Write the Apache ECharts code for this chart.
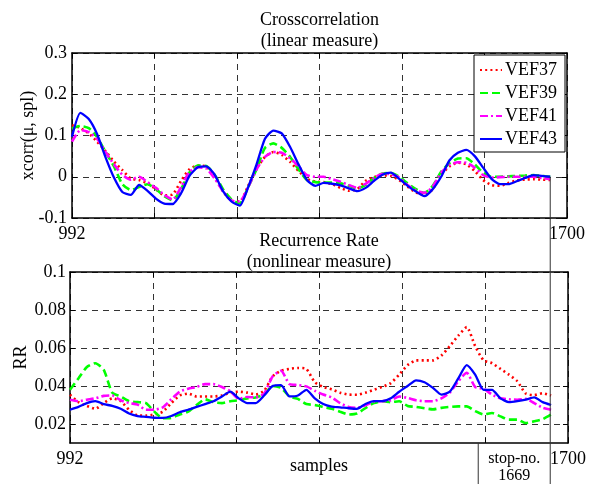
<!DOCTYPE html>
<html><head><meta charset="utf-8">
<script src="https://cdn.jsdelivr.net/npm/echarts@6/dist/echarts.min.js"></script>
<style>html,body{margin:0;padding:0;background:#fff}#c{width:598px;height:484px}</style>
</head><body><div id="c"></div><script>
const SAMPLE_START = 992, SAMPLE_STEP = 12;
const X_MIN = 992, X_MAX = 1700;
const X_TICKS = [992, 1110, 1228, 1346, 1464, 1582, 1700];
const X_LABELS = [992, 1700];
const XCORR_TICKS = [-0.1, 0, 0.1, 0.2, 0.3];
const RR_TICKS = [0.02, 0.04, 0.06, 0.08, 0.1];
const STOP_TEXT = ['stop-no.', '1669'];
const SERIES_NAMES = ['VEF37', 'VEF39', 'VEF41', 'VEF43'];

const XCORR_VEF37 = [0.125,0.118,0.105,0.085,0.062,0.037,0.016,-0.004,-0.008,-0.016,-0.03,-0.045,-0.043,-0.01,0.018,0.027,0.025,0.0,-0.035,-0.058,-0.06,-0.022,0.02,0.048,0.06,0.053,0.036,0.014,-0.005,-0.012,-0.013,-0.018,-0.027,-0.034,-0.03,-0.01,-0.001,0.003,0.002,-0.008,-0.024,-0.038,-0.044,-0.03,0.005,0.025,0.034,0.03,0.014,-0.008,-0.02,-0.022,-0.015,-0.009,-0.007,-0.006,-0.007,-0.008];
const XCORR_VEF39 = [0.117,0.123,0.118,0.096,0.06,0.025,-0.018,-0.032,-0.025,-0.018,-0.03,-0.047,-0.057,-0.03,0.01,0.027,0.026,0.005,-0.03,-0.055,-0.065,-0.025,0.018,0.07,0.081,0.07,0.048,0.018,-0.008,-0.013,-0.014,-0.014,-0.016,-0.022,-0.028,-0.02,-0.003,0.008,0.009,0.0,-0.016,-0.03,-0.039,-0.022,0.012,0.033,0.044,0.045,0.03,0.01,0.0,0.0,0.001,0.002,0.003,0.004,0.002,0.0];
const XCORR_VEF41 = [0.085,0.113,0.108,0.092,0.06,0.03,0.005,-0.007,0.0,-0.013,-0.027,-0.044,-0.055,-0.025,0.012,0.023,0.02,-0.004,-0.035,-0.058,-0.06,-0.025,0.018,0.048,0.06,0.058,0.045,0.025,0.004,0.0,0.0,-0.006,-0.012,-0.02,-0.027,-0.017,-0.003,0.007,0.006,-0.002,-0.02,-0.033,-0.039,-0.024,0.01,0.028,0.035,0.034,0.022,0.004,-0.002,-0.001,0.0,0.0,0.0,0.0,-0.003,-0.006];
const XCORR_VEF43 = [0.097,0.155,0.14,0.103,0.047,-0.002,-0.037,-0.044,-0.02,-0.034,-0.053,-0.065,-0.066,-0.04,0.002,0.023,0.025,0.005,-0.035,-0.06,-0.07,-0.025,0.03,0.092,0.112,0.105,0.072,0.03,-0.008,-0.022,-0.015,-0.017,-0.021,-0.028,-0.035,-0.027,-0.01,0.005,0.01,-0.005,-0.022,-0.036,-0.047,-0.03,0.0,0.04,0.058,0.065,0.05,0.022,-0.005,-0.018,-0.018,-0.011,-0.003,0.004,0.002,0.0];

const RR_VEF37 = [0.0354,0.0315,0.0295,0.028,0.031,0.0335,0.032,0.0275,0.0245,0.0244,0.025,0.0265,0.031,0.035,0.036,0.0345,0.0345,0.0345,0.035,0.0365,0.037,0.0365,0.0355,0.0375,0.045,0.048,0.049,0.0495,0.049,0.042,0.0395,0.0382,0.0365,0.0355,0.0354,0.0365,0.038,0.0395,0.0415,0.046,0.051,0.0535,0.0535,0.0535,0.056,0.061,0.0665,0.071,0.061,0.0535,0.052,0.049,0.046,0.0425,0.036,0.0352,0.0362,0.035];
const RR_VEF39 = [0.038,0.044,0.05,0.052,0.0485,0.0365,0.0345,0.032,0.0315,0.031,0.0265,0.023,0.0232,0.025,0.0265,0.03,0.033,0.0315,0.031,0.032,0.0325,0.0335,0.034,0.0355,0.04,0.039,0.0345,0.0332,0.0305,0.03,0.029,0.028,0.0265,0.025,0.0255,0.0284,0.031,0.032,0.0315,0.032,0.0295,0.029,0.0283,0.0277,0.0285,0.029,0.0293,0.0293,0.0268,0.025,0.0258,0.024,0.0223,0.0223,0.0205,0.0214,0.0225,0.025];
const RR_VEF41 = [0.0328,0.032,0.0328,0.0335,0.0348,0.035,0.0325,0.031,0.0302,0.0275,0.0275,0.0288,0.033,0.037,0.0386,0.0395,0.041,0.041,0.0395,0.0372,0.0332,0.0342,0.034,0.036,0.045,0.048,0.041,0.0405,0.0398,0.0375,0.0355,0.034,0.031,0.029,0.0285,0.0298,0.0318,0.032,0.0325,0.0345,0.0337,0.0325,0.032,0.032,0.0335,0.0365,0.0425,0.047,0.0395,0.0385,0.0355,0.0335,0.033,0.0328,0.0332,0.031,0.0285,0.0275];
const RR_VEF43 = [0.0275,0.029,0.031,0.032,0.0305,0.0295,0.028,0.0255,0.0242,0.0238,0.0233,0.0232,0.0242,0.0262,0.0275,0.029,0.0305,0.032,0.0345,0.037,0.0335,0.031,0.031,0.035,0.04,0.0405,0.0345,0.035,0.038,0.0335,0.0305,0.0292,0.0288,0.0283,0.028,0.0305,0.032,0.032,0.0335,0.037,0.04,0.043,0.042,0.039,0.0355,0.037,0.044,0.051,0.046,0.038,0.038,0.0335,0.0315,0.032,0.0328,0.034,0.0315,0.03];

const XCORR = [XCORR_VEF37, XCORR_VEF39, XCORR_VEF41, XCORR_VEF43];
const RR = [RR_VEF37, RR_VEF39, RR_VEF41, RR_VEF43];

const FONT = '"Liberation Serif", "Times New Roman", serif';
const COLORS = ['#ff0000', '#00ff00', '#ff00ff', '#0000ff'];
const DASHES = [[2, 3.2], [8, 4], [8, 3, 2, 3], 'solid'];
const WIDTHS = [2.6, 2.6, 2.6, 2.3];

const pairs = arr => arr.map((v, i) => [SAMPLE_START + i * SAMPLE_STEP, v]);
const lastSample = SAMPLE_START + (XCORR_VEF43.length - 1) * SAMPLE_STEP;

const gridLine = {show: true, lineStyle: {color: '#333', width: 1, type: [6, 5]}};
const axisLineStyle = {show: true, onZero: false, lineStyle: {color: '#000', width: 1.5}};
const labelStyle = {color: '#000', fontFamily: FONT, fontSize: 18};

function xAxes(gi) {
  return [{
    type: 'value', gridIndex: gi, min: X_MIN, max: X_MAX, position: 'bottom',
    axisLine: axisLineStyle,
    axisTick: {show: true, inside: true, length: 5, customValues: X_TICKS, lineStyle: {color: '#000'}},
    axisLabel: Object.assign({show: true, margin: 7, customValues: X_LABELS, formatter: v => String(v)}, labelStyle),
    splitLine: gridLine,
    name: gi === 1 ? 'samples' : '', nameLocation: 'middle', nameGap: 14, nameMoveOverlap: false,
    nameTextStyle: {color: '#000', fontFamily: FONT, fontSize: 18, verticalAlign: 'top'}
  }, {
    type: 'value', gridIndex: gi, min: X_MIN, max: X_MAX, position: 'top',
    axisLine: axisLineStyle,
    axisTick: {show: true, inside: true, length: 5, customValues: X_TICKS, lineStyle: {color: '#000'}},
    axisLabel: {show: false}, splitLine: {show: false}
  }];
}
function yAxes(gi, min, max, ticks, name, gap, margin) {
  return [{
    type: 'value', gridIndex: gi, min: min, max: max, position: 'left',
    axisLine: axisLineStyle,
    axisTick: {show: true, inside: true, length: 5, customValues: ticks, lineStyle: {color: '#000'}},
    axisLabel: Object.assign({show: true, margin: margin, customValues: ticks}, labelStyle),
    splitLine: gridLine,
    name: name, nameLocation: 'middle', nameGap: gap, nameRotate: 90, nameMoveOverlap: false,
    nameTextStyle: {color: '#000', fontFamily: FONT, fontSize: 18}
  }, {
    type: 'value', gridIndex: gi, min: min, max: max, position: 'right',
    axisLine: axisLineStyle,
    axisTick: {show: true, inside: true, length: 5, customValues: ticks, lineStyle: {color: '#000'}},
    axisLabel: {show: false}, splitLine: {show: false}
  }];
}

const series = [];
[XCORR, RR].forEach((group, gi) => {
  group.forEach((arr, si) => {
    series.push({
      type: 'line', name: SERIES_NAMES[si], xAxisIndex: gi * 2, yAxisIndex: gi * 2,
      data: pairs(arr), symbol: 'none', smooth: 0.2, animation: false,
      lineStyle: {color: COLORS[si], width: WIDTHS[si], type: DASHES[si], cap: 'butt'},
      itemStyle: {color: COLORS[si]}, z: 2 + si
    });
  });
});

const chart = echarts.init(document.getElementById('c'), null, {renderer: 'canvas'});
chart.setOption({
  animation: false,
  backgroundColor: '#fff',
  title: [
    {text: 'Crosscorrelation\n(linear measure)', left: 319.5, top: 10, textAlign: 'center', padding: 0,
     textStyle: {color: '#000', fontFamily: FONT, fontSize: 18, fontWeight: 'normal', lineHeight: 21}},
    {text: 'Recurrence Rate\n(nonlinear measure)', left: 319, top: 231, textAlign: 'center', padding: 0,
     textStyle: {color: '#000', fontFamily: FONT, fontSize: 18, fontWeight: 'normal', lineHeight: 21}}
  ],
  legend: {
    data: SERIES_NAMES, left: 474, top: 55, orient: 'vertical',
    backgroundColor: '#fff', borderColor: '#000', borderWidth: 1,
    padding: [6, 8, 4, 5], itemGap: 5, itemWidth: 22, itemHeight: 12,
    itemStyle: {opacity: 0},
    textStyle: {color: '#000', fontFamily: FONT, fontSize: 18, lineHeight: 18, padding: [0, 0, 0, -2]},
    z: 10
  },
  grid: [
    {left: 72, top: 53, width: 495, height: 165, show: false},
    {left: 70, top: 272, width: 498, height: 171, show: false}
  ],
  xAxis: [...xAxes(0), ...xAxes(1)],
  yAxis: [...yAxes(0, -0.1, 0.3, XCORR_TICKS, 'xcorr(\u03bc, spl)', 35, 5),
          ...yAxes(1, 0.01, 0.1, RR_TICKS, 'RR', 40, 4)],
  series: series
});

// stop marker: vertical line from the end of the data down to the page bottom, with a labelled box
const endPt = chart.convertToPixel({seriesIndex: 3}, [lastSample, XCORR_VEF43[XCORR_VEF43.length - 1]]);
const bottomY = chart.convertToPixel({yAxisIndex: 2}, 0.01);
const H = chart.getHeight();
const boxW = 72;
chart.setOption({
  graphic: [
    {type: 'line', shape: {x1: endPt[0], y1: endPt[1], x2: endPt[0], y2: H}, style: {stroke: '#333', lineWidth: 1}, z: 20},
    {type: 'line', shape: {x1: endPt[0] - boxW, y1: bottomY, x2: endPt[0] - boxW, y2: H}, style: {stroke: '#333', lineWidth: 1}, z: 20},
    {type: 'text', x: endPt[0] - boxW / 2, y: bottomY + 16, style: {text: STOP_TEXT[0], fill: '#000', font: '16px ' + FONT, align: 'center', verticalAlign: 'middle'}, z: 20},
    {type: 'text', x: endPt[0] - boxW / 2, y: bottomY + 33, style: {text: STOP_TEXT[1], fill: '#000', font: '16px ' + FONT, align: 'center', verticalAlign: 'middle'}, z: 20}
  ]
});
</script></body></html>
